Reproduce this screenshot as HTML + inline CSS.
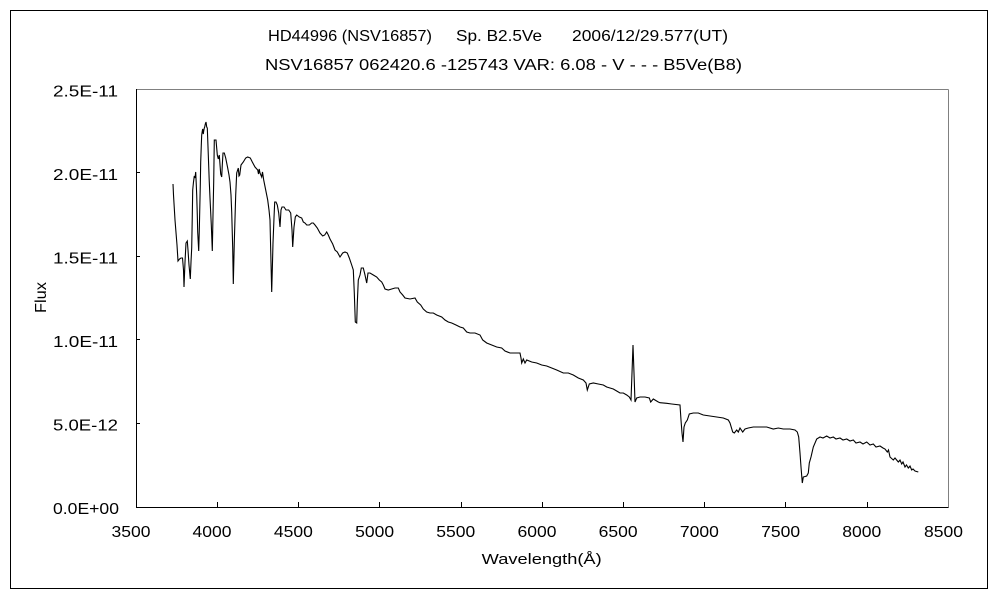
<!DOCTYPE html>
<html><head><meta charset="utf-8"><style>
html,body{margin:0;padding:0;background:#fff;}
svg{display:block;}
text{font-family:"Liberation Sans","Noto Sans CJK JP",sans-serif;fill:#000;}
</style></head><body>
<svg width="1000" height="600" viewBox="0 0 1000 600" xmlns="http://www.w3.org/2000/svg">
<rect x="0" y="0" width="1000" height="600" fill="#fff"/>
<rect x="10.5" y="10.5" width="977" height="578" fill="none" stroke="#000" stroke-width="1"/>
<!-- plot area -->
<line x1="136.5" y1="89.5" x2="948.5" y2="89.5" stroke="#808080" stroke-width="1"/>
<line x1="948.5" y1="89.5" x2="948.5" y2="507.5" stroke="#808080" stroke-width="1"/>
<line x1="136.5" y1="89" x2="136.5" y2="507.5" stroke="#000" stroke-width="1"/>
<line x1="136" y1="507.5" x2="948.5" y2="507.5" stroke="#000" stroke-width="1"/>
<!-- y ticks -->
<g stroke="#000" stroke-width="1">
<line x1="136" y1="423.5" x2="140" y2="423.5"/>
<line x1="136" y1="339.5" x2="140" y2="339.5"/>
<line x1="136" y1="256.5" x2="140" y2="256.5"/>
<line x1="136" y1="172.5" x2="140" y2="172.5"/>
<!-- x ticks -->
<line x1="217.5" y1="502" x2="217.5" y2="507"/>
<line x1="298.5" y1="502" x2="298.5" y2="507"/>
<line x1="379.5" y1="502" x2="379.5" y2="507"/>
<line x1="461.5" y1="502" x2="461.5" y2="507"/>
<line x1="542.5" y1="502" x2="542.5" y2="507"/>
<line x1="623.5" y1="502" x2="623.5" y2="507"/>
<line x1="704.5" y1="502" x2="704.5" y2="507"/>
<line x1="785.5" y1="502" x2="785.5" y2="507"/>
<line x1="867.5" y1="502" x2="867.5" y2="507"/>
</g>
<!-- titles -->
<text x="268" y="41" font-size="16" textLength="164" lengthAdjust="spacingAndGlyphs">HD44996 (NSV16857)</text>
<text x="456" y="41" font-size="16" textLength="86" lengthAdjust="spacingAndGlyphs">Sp. B2.5Ve</text>
<text x="572" y="41" font-size="16" textLength="156" lengthAdjust="spacingAndGlyphs">2006/12/29.577(UT)</text>
<text x="265" y="70" font-size="16" textLength="477" lengthAdjust="spacingAndGlyphs">NSV16857 062420.6 -125743 VAR: 6.08 - V - - - B5Ve(B8)</text>
<!-- y labels -->
<g font-size="16" text-anchor="end">
<text x="118" y="96.5" textLength="65" lengthAdjust="spacingAndGlyphs">2.5E-11</text>
<text x="118" y="180" textLength="65" lengthAdjust="spacingAndGlyphs">2.0E-11</text>
<text x="118" y="263.5" textLength="65" lengthAdjust="spacingAndGlyphs">1.5E-11</text>
<text x="118" y="347" textLength="65" lengthAdjust="spacingAndGlyphs">1.0E-11</text>
<text x="118" y="430.5" textLength="65" lengthAdjust="spacingAndGlyphs">5.0E-12</text>
<text x="119" y="514" textLength="66" lengthAdjust="spacingAndGlyphs">0.0E+00</text>
</g>
<!-- x labels -->
<g font-size="16" text-anchor="middle">
<text x="131" y="537" textLength="39" lengthAdjust="spacingAndGlyphs">3500</text>
<text x="212" y="537" textLength="39" lengthAdjust="spacingAndGlyphs">4000</text>
<text x="293.4" y="537" textLength="39" lengthAdjust="spacingAndGlyphs">4500</text>
<text x="374.6" y="537" textLength="39" lengthAdjust="spacingAndGlyphs">5000</text>
<text x="455.8" y="537" textLength="39" lengthAdjust="spacingAndGlyphs">5500</text>
<text x="537" y="537" textLength="39" lengthAdjust="spacingAndGlyphs">6000</text>
<text x="618.2" y="537" textLength="39" lengthAdjust="spacingAndGlyphs">6500</text>
<text x="699.4" y="537" textLength="39" lengthAdjust="spacingAndGlyphs">7000</text>
<text x="780.6" y="537" textLength="39" lengthAdjust="spacingAndGlyphs">7500</text>
<text x="861.8" y="537" textLength="39" lengthAdjust="spacingAndGlyphs">8000</text>
<text x="943.5" y="537" textLength="39" lengthAdjust="spacingAndGlyphs">8500</text>
</g>
<!-- axis titles -->
<text x="0" y="0" font-size="16" text-anchor="middle" transform="translate(46,297.5) rotate(-90)" textLength="31" lengthAdjust="spacingAndGlyphs">Flux</text>
<text x="541.7" y="564" font-size="15" text-anchor="middle" textLength="120" lengthAdjust="spacingAndGlyphs">Wavelength(Å)</text>
<!-- spectrum -->
<polyline fill="none" stroke="#000" stroke-width="1.1" stroke-linejoin="miter" points="
173,184 173.5,195 175,220 177,245 178,261 179.5,259 181,258 182.5,258 183.5,270 184,287 185,262 186,243 187.3,241 188,250 189,265 190.3,279 191,262 191.7,248 192.3,215 192.7,190 193.5,182 194.3,176 195,178 195.7,172 196.3,185 196.7,195 197.3,215 197.7,232 198.7,251 199.3,230 199.7,212 200.3,185 200.7,162 201.3,145 201.7,135 202.3,131 202.7,129 203.3,134 203.7,131 204.3,128 204.7,127 205.3,124 206,122 206.7,127 207.3,128 208.3,155 209.2,180 210,198 211.3,225 212.3,251 213,215 213.7,182 214.3,140 216,140 217.3,155 218.3,159 219.3,155 220.7,174 221.7,177 222.3,165 223,153 224.3,153 225.7,158 227.7,168 229,175 230,182 231,195 231.7,212 232.7,248 233.3,284 234.3,242 235.7,195 236.7,173 238.3,168 239,176 239.7,175 241,165 243.3,162 245.7,158 247.7,157 250.3,158 252.3,162 255,167 257.7,170 258.5,174 259.2,169 260,173 261.7,177 262.5,172 263.7,180 265.7,190 267.7,200 269,210 270,220 270.7,250 271.7,292 272.3,270 273,243 274,218 274.7,202 276,202 277.3,205 278.7,213 280,227 281,210 282,207 284,207 286,210 288.7,210 290.7,213 292,230 292.7,247 294,227 295.3,217 296.7,215 299.3,217 301.7,218 303.3,222 305,223 306.7,225 309.3,225 311.7,223 313.3,223 315,225 317.3,228 320,233 322.7,236 324.7,235 326.7,232 328.3,235 330,239 332.7,244 335,250 337.3,252 340,257 342.7,253 345,252 347.3,253 349.3,258 351.7,265 353.3,270 354.3,293 355.3,322 356.7,323 357.3,303 358.3,280 360,275 361.3,268 363.3,268 365,275 366.7,283 368,273 370,273 373.3,275 376.7,277 379.3,280 381.7,282 383.3,285 385,289 388.3,290 391.7,289 395,288 398.3,288 400,292 402.7,295 405,298 410,299 415,298 417.3,302 420.7,305 423.3,309 426.7,312 430,313 433.3,313 436.7,315 441.7,317 445,320 448.3,322 451.7,323 456,325 460,327 463.3,328 466.7,332 470,333 475,333 480,335 482.7,340 486.7,343 491.7,345 496.7,347 501.7,348 505,351 510,353 515,353 520,353 521,358 521.7,363 523.3,359 525,363 526.7,360 531.7,362 536.7,363 541.7,365 546.7,366 551.7,368 556.7,370 563.3,373 568.3,373 573.3,375 578.3,378 583.3,380 586,383 587.3,390 589.3,384 593.3,383 598.3,384 603.3,385 606.7,387 610,388 613.3,389 616.7,391 620,393 623.3,393 626.7,395 629.3,397 631,400 632,373 633,345 634,373 635,402 636.7,398 640,397 645,397 649.3,398 650.7,402 653.3,399 658.3,402 660,402.7 666.7,403.3 671.7,404 680,405 681,420 682,433 683,442 684,427 685.3,423 687.3,420 689.3,414 693.3,413 698.3,413 703.3,415 710,416 716.7,417 723.3,418 728.3,420 730,423 732.7,432 734.3,433 736.7,430 738.3,432 740,428 742.7,432 745,429 748.3,428 753.3,427 760,427 766.7,427 773.3,429 778.3,428 783.3,429 790,429 795,430 797.3,432 798.7,437 800,453 801,467 802.3,483 803.3,477 806.7,476 808.3,473 809.3,463 811,457 813.3,447 816.7,439 820,437 823,438 826.7,436 830,438 833.3,437 836,439 840,438 843,440 846.7,439 850,441 853.3,440 856,443 860,442 863,444 866.7,442 870,445 873.3,444 876,447 880,446 883,448 885,449 887.3,452 888.5,450 890,457 893.3,460 895,458 898.3,462 900,460 901.7,464 903,462 905,467 906.5,465 908.3,468 910,466 911.7,470 913,469 915,471 918.3,472"/>
</svg>
</body></html>
